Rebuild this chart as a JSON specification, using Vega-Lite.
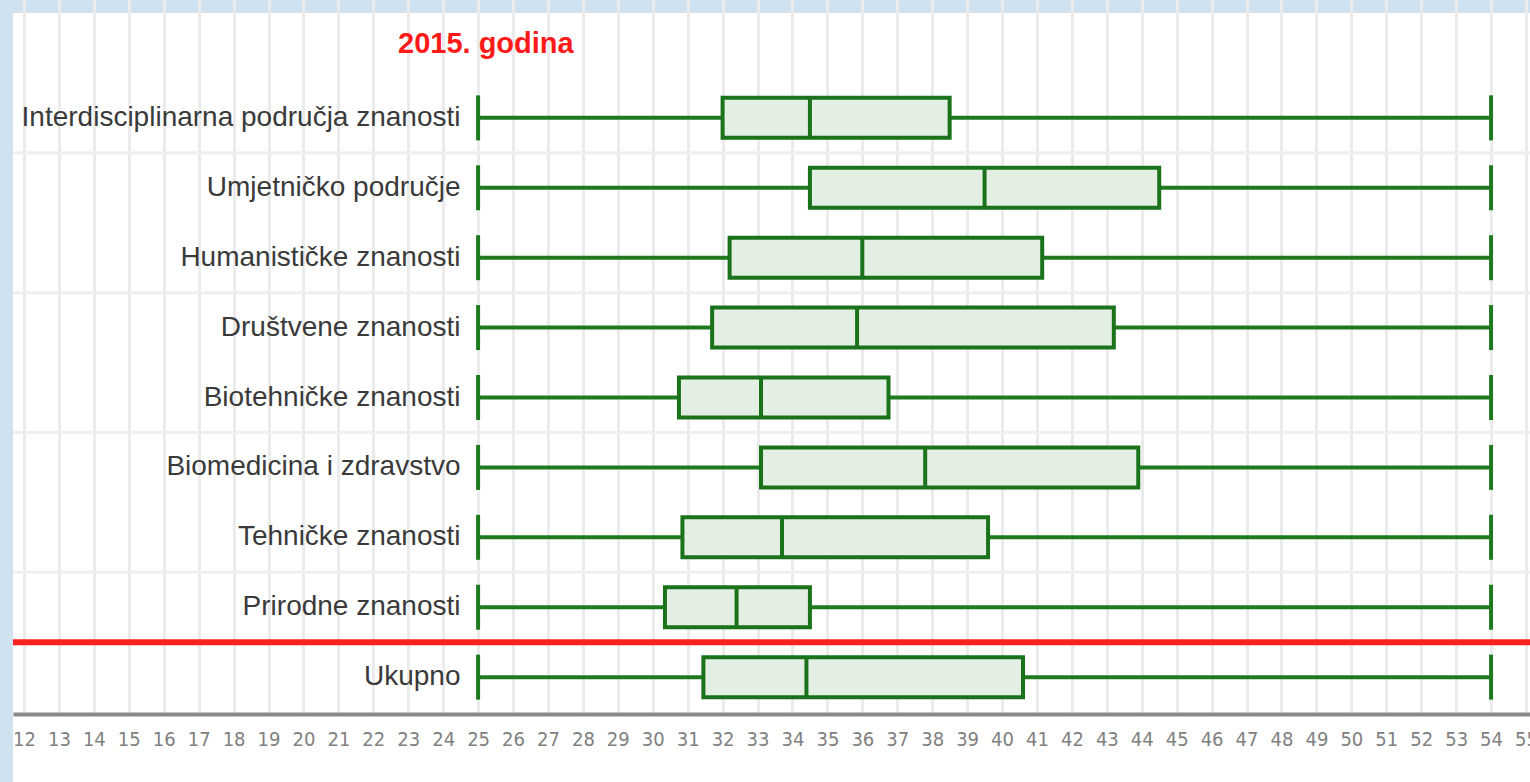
{
  "$schema": "https://vega.github.io/schema/vega-lite/v6.json",
  "width": 1517,
  "height": 769,
  "autosize": {"type": "none"},
  "padding": {"left": 13, "top": 13, "right": 0, "bottom": 0},
  "background": "#d0e2f0",
  "config": {
    "view": {"fill": "white", "stroke": null},
    "font": "Liberation Sans",
    "axisX": {
      "title": null,
      "orient": "bottom",
      "offset": -68,
      "domainColor": "#8a8a8a",
      "domainWidth": 4,
      "ticks": false,
      "grid": true,
      "gridColor": "#ebebeb",
      "gridWidth": 3,
      "labelFont": "DejaVu Sans Condensed, Liberation Sans",
      "labelFontSize": 20,
      "labelColor": "#808080",
      "labelPadding": 15,
      "labelBound": false,
      "labelOverlap": false,
      "labelFlush": false
    }
  },
  "title": {
    "text": "2015. godina",
    "color": "#ff1a1a",
    "fontSize": 29,
    "font": "Liberation Sans",
    "fontWeight": "bold",
    "anchor": "start",
    "frame": "group",
    "dx": 385,
    "offset": -69,
    "baseline": "alphabetic"
  },
  "datasets": {
    "boxes": [
      {"category": "Interdisciplinarna područja znanosti", "min": 25, "q1": 32.0, "median": 34.5, "q3": 38.5, "max": 54},
      {"category": "Umjetničko područje", "min": 25, "q1": 34.5, "median": 39.5, "q3": 44.5, "max": 54},
      {"category": "Humanističke znanosti", "min": 25, "q1": 32.2, "median": 36.0, "q3": 41.15, "max": 54},
      {"category": "Društvene znanosti", "min": 25, "q1": 31.7, "median": 35.85, "q3": 43.2, "max": 54},
      {"category": "Biotehničke znanosti", "min": 25, "q1": 30.75, "median": 33.1, "q3": 36.75, "max": 54},
      {"category": "Biomedicina i zdravstvo", "min": 25, "q1": 33.1, "median": 37.8, "q3": 43.9, "max": 54},
      {"category": "Tehničke znanosti", "min": 25, "q1": 30.85, "median": 33.7, "q3": 39.6, "max": 54},
      {"category": "Prirodne znanosti", "min": 25, "q1": 30.35, "median": 32.4, "q3": 34.5, "max": 54},
      {"category": "Ukupno", "min": 25, "q1": 31.45, "median": 34.4, "q3": 40.6, "max": 54}
    ],
    "separators": [
      {"category": "Umjetničko područje"},
      {"category": "Društvene znanosti"},
      {"category": "Biomedicina i zdravstvo"},
      {"category": "Prirodne znanosti"}
    ],
    "total": [{"category": "Ukupno"}]
  },
  "encoding": {
    "y": {
      "field": "category",
      "type": "nominal",
      "scale": {
        "domain": ["Interdisciplinarna područja znanosti", "Umjetničko područje", "Humanističke znanosti", "Društvene znanosti", "Biotehničke znanosti", "Biomedicina i zdravstvo", "Tehničke znanosti", "Prirodne znanosti", "Ukupno"],
        "paddingOuter": 1.03,
        "paddingInner": 0
      },
      "axis": {
        "title": null,
        "domain": false,
        "ticks": false,
        "grid": false,
        "labelPadding": 0,
        "offset": -447,
        "labelFontSize": 28,
        "labelColor": "#3a3a3a",
        "labelFont": "Liberation Sans",
        "labelLimit": 0
      }
    }
  },
  "layer": [
    {
      "data": {"name": "separators"},
      "mark": {"type": "rule", "color": "#efefef", "strokeWidth": 3},
      "encoding": {
        "y": {"field": "category", "type": "nominal", "bandPosition": 0}
      }
    },
    {
      "data": {"name": "boxes"},
      "mark": {"type": "rule", "color": "#1f7a1f", "strokeWidth": 4},
      "encoding": {
        "x": {
          "field": "min",
          "type": "quantitative",
          "scale": {"domain": [11.685, 55.115], "nice": false, "zero": false},
          "axis": {"values": [12,13,14,15,16,17,18,19,20,21,22,23,24,25,26,27,28,29,30,31,32,33,34,35,36,37,38,39,40,41,42,43,44,45,46,47,48,49,50,51,52,53,54,55]}
        },
        "x2": {"field": "max"}
      }
    },
    {
      "data": {"name": "boxes"},
      "mark": {"type": "tick", "color": "#1f7a1f", "thickness": 4, "size": 45, "orient": "vertical", "opacity": 1},
      "encoding": {
        "x": {
          "field": "min",
          "type": "quantitative",
          "scale": {"domain": [11.685, 55.115], "nice": false, "zero": false},
          "axis": {"values": [12,13,14,15,16,17,18,19,20,21,22,23,24,25,26,27,28,29,30,31,32,33,34,35,36,37,38,39,40,41,42,43,44,45,46,47,48,49,50,51,52,53,54,55]}
        }
      }
    },
    {
      "data": {"name": "boxes"},
      "mark": {"type": "tick", "color": "#1f7a1f", "thickness": 4, "size": 45, "orient": "vertical", "opacity": 1},
      "encoding": {
        "x": {
          "field": "max",
          "type": "quantitative",
          "scale": {"domain": [11.685, 55.115], "nice": false, "zero": false},
          "axis": {"values": [12,13,14,15,16,17,18,19,20,21,22,23,24,25,26,27,28,29,30,31,32,33,34,35,36,37,38,39,40,41,42,43,44,45,46,47,48,49,50,51,52,53,54,55]}
        }
      }
    },
    {
      "data": {"name": "boxes"},
      "mark": {"type": "bar", "fill": "#e3efe3", "stroke": "#1a721a", "strokeWidth": 4, "height": 40, "opacity": 1},
      "encoding": {
        "x": {
          "field": "q1",
          "type": "quantitative",
          "scale": {"domain": [11.685, 55.115], "nice": false, "zero": false},
          "axis": {"values": [12,13,14,15,16,17,18,19,20,21,22,23,24,25,26,27,28,29,30,31,32,33,34,35,36,37,38,39,40,41,42,43,44,45,46,47,48,49,50,51,52,53,54,55]}
        },
        "x2": {"field": "q3"}
      }
    },
    {
      "data": {"name": "boxes"},
      "mark": {"type": "tick", "color": "#1a721a", "thickness": 4, "size": 42, "orient": "vertical", "opacity": 1},
      "encoding": {
        "x": {
          "field": "median",
          "type": "quantitative",
          "scale": {"domain": [11.685, 55.115], "nice": false, "zero": false},
          "axis": {"values": [12,13,14,15,16,17,18,19,20,21,22,23,24,25,26,27,28,29,30,31,32,33,34,35,36,37,38,39,40,41,42,43,44,45,46,47,48,49,50,51,52,53,54,55]}
        }
      }
    },
    {
      "data": {"name": "total"},
      "mark": {"type": "rule", "color": "#ff2020", "strokeWidth": 6},
      "encoding": {
        "y": {"field": "category", "type": "nominal", "bandPosition": 0}
      }
    }
  ]
}
